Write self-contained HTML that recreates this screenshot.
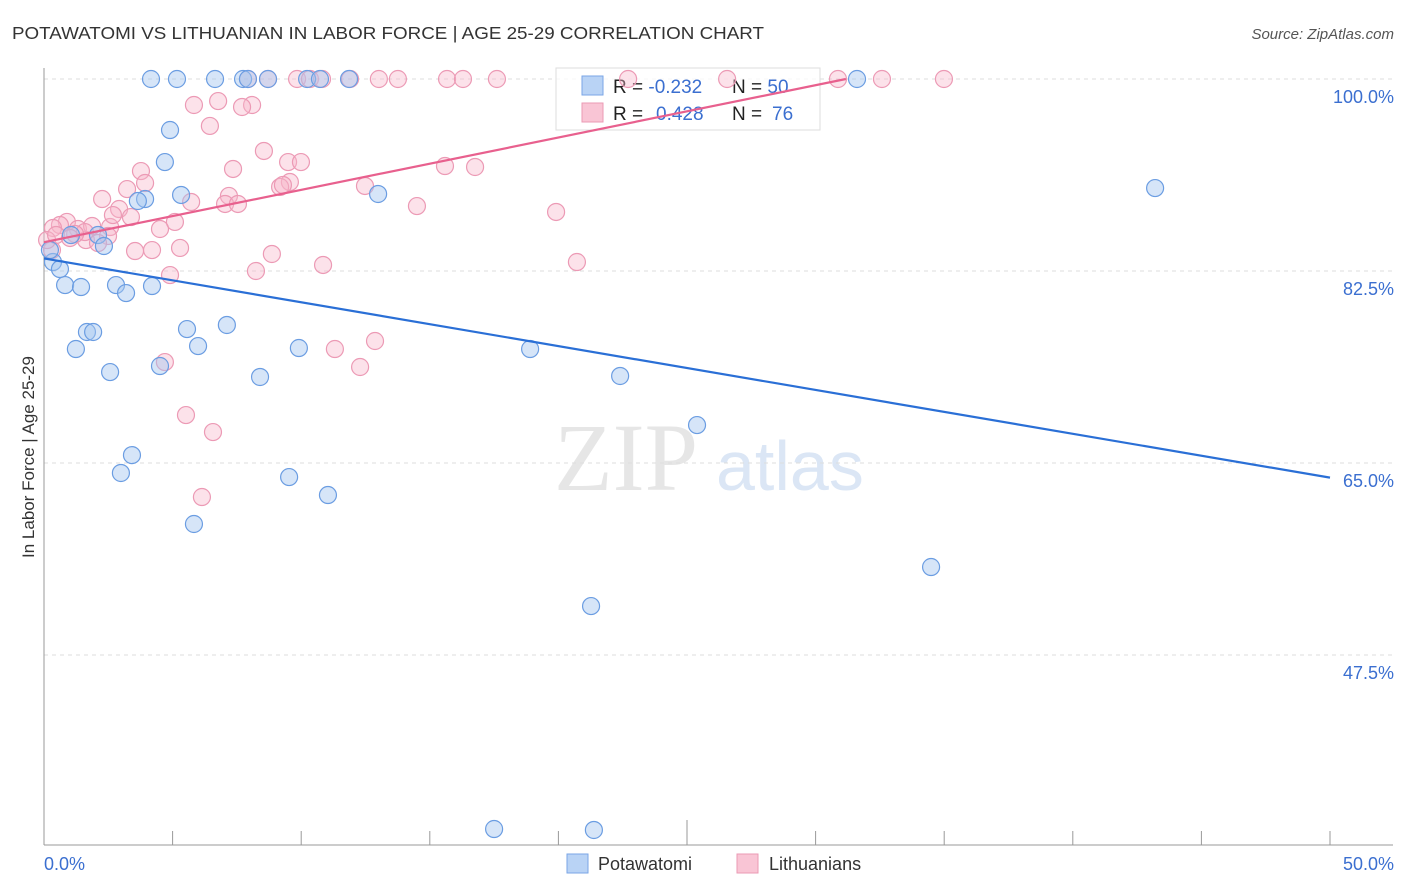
<!DOCTYPE html>
<html><head><meta charset="utf-8"><style>
body{margin:0;background:#fff;}
svg{display:block;font-family:"Liberation Sans",sans-serif;}
</style></head><body>
<svg id="chart" width="1406" height="892" viewBox="0 0 1406 892">
<text x="12" y="39" font-size="17.5" fill="#333" textLength="752" lengthAdjust="spacingAndGlyphs">POTAWATOMI VS LITHUANIAN IN LABOR FORCE | AGE 25-29 CORRELATION CHART</text>
<text x="1394" y="39" font-size="15" fill="#555" font-style="italic" text-anchor="end">Source: ZipAtlas.com</text>
<text x="554" y="490" font-size="96" fill="#e6e6e6" font-family="Liberation Serif, serif">ZIP</text>
<text x="716" y="490" font-size="70" fill="#dbe6f5">atlas</text>
<g id="grid"></g>
<g id="axes"></g>
<g>
<rect x="556" y="68" width="264" height="62" fill="rgba(255,255,255,0.75)" stroke="#ddd"/>
<rect x="582" y="76" width="21" height="19" fill="#b9d3f5" stroke="#7aa6e6"/>
<rect x="582" y="103" width="21" height="19" fill="#f9c5d5" stroke="#eb9ab4"/>
<text x="613" y="93" font-size="19" fill="#222">R = <tspan fill="#3b6fd0">-0.232</tspan><tspan x="732">N = </tspan><tspan fill="#3b6fd0">50</tspan></text>
<text x="613" y="120" font-size="19" fill="#222">R = <tspan fill="#3b6fd0" x="656">0.428</tspan><tspan x="732">N = </tspan><tspan fill="#3b6fd0" x="772">76</tspan></text>
</g>
<g id="pinkPts"></g>
<g id="bluePts"></g>
<g id="lines"></g>
<text transform="translate(34,457) rotate(-90)" font-size="17" fill="#333" text-anchor="middle">In Labor Force | Age 25-29</text>
<text x="44" y="870" font-size="18" fill="#3b6fd0">0.0%</text>
<text x="1394" y="870" font-size="18" fill="#3b6fd0" text-anchor="end">50.0%</text>
<g>
<rect x="567" y="854" width="21" height="19" fill="#b9d3f5" stroke="#7aa6e6"/>
<text x="598" y="870" font-size="18" fill="#333">Potawatomi</text>
<rect x="737" y="854" width="21" height="19" fill="#f9c5d5" stroke="#eb9ab4"/>
<text x="769" y="870" font-size="18" fill="#333">Lithuanians</text>
</g>
</svg>
<script>
const yTicks=[100,82.5,65,47.5];
const yTickLabels=["100.0%","82.5%","65.0%","47.5%"];
const xTicks=[0,5,10,15,20,25,30,35,40,45,50];
const blueX=[4.16,5.17,6.65,7.74,7.93,8.71,10.23,10.73,11.86,31.61,4.90,4.70,5.33,12.99,3.93,3.65,43.20,2.10,1.05,2.33,0.35,0.62,0.82,1.44,2.80,3.19,4.20,1.67,1.91,5.56,7.11,1.24,5.99,9.91,18.90,2.57,4.51,8.40,22.40,25.39,3.42,2.99,9.53,11.04,5.83,34.49,21.27,17.50,21.38,0.23];
const blueY=[100,100,100,100,100,100,100,100,100,100,95.35,92.43,89.43,89.52,89.06,88.88,90.06,85.78,85.78,84.78,83.32,82.68,81.22,81.04,81.22,80.49,81.13,76.94,76.94,77.21,77.58,75.39,75.66,75.48,75.39,73.29,73.84,72.84,72.93,68.46,65.72,64.09,63.72,62.08,59.44,55.52,51.96,31.64,31.55,84.41];
const pinkX=[7.93,8.71,9.84,10.34,10.81,11.90,13.02,13.76,15.67,16.29,17.61,22.71,26.56,30.87,32.58,34.99,5.83,6.77,8.09,7.70,6.45,8.55,9.49,9.99,7.35,3.77,15.59,16.76,9.56,9.18,12.48,3.93,3.23,7.19,2.26,7.04,7.54,5.72,14.50,19.91,2.92,3.38,5.09,4.51,0.89,0.62,0.35,1.32,1.87,2.57,2.49,1.63,2.10,3.54,4.20,5.29,8.86,0.31,10.85,8.24,20.72,4.90,12.87,11.31,4.70,12.29,5.52,6.57,6.14,1.59,1.21,0.12,0.47,1.01,2.68,9.29];
const pinkY=[100,100,100,100,100,100,100,100,100,100,100,100,100,100,100,100,97.63,97.99,97.63,97.45,95.72,93.44,92.43,92.43,91.80,91.61,92.07,91.98,90.61,90.16,90.25,90.52,89.97,89.34,89.06,88.61,88.61,88.79,88.42,87.88,88.15,87.42,86.97,86.33,86.97,86.69,86.42,86.33,86.60,86.51,85.69,85.32,85.05,84.32,84.41,84.60,84.05,84.41,83.05,82.50,83.32,82.13,76.12,75.39,74.20,73.75,69.37,67.82,61.90,86.05,85.87,85.32,85.78,85.51,87.60,90.34];
const NS="http://www.w3.org/2000/svg";
const X0=44,X1=1330,Y100=79,PX175=192;
function sx(v){return X0+(v/50)*(X1-X0);}
function sy(v){return Y100+(100-v)/17.5*PX175;}
function mk(tag,attrs,parent){const e=document.createElementNS(NS,tag);for(const k in attrs)e.setAttribute(k,attrs[k]);parent.appendChild(e);return e;}
const grid=document.getElementById('grid'),axes=document.getElementById('axes');
yTicks.forEach((t,i)=>{
 const l=mk('line',{x1:44,x2:1393,y1:sy(t),y2:sy(t),stroke:'#ddd','stroke-dasharray':'4,4'},grid);
 
 
 const tx=mk('text',{x:1394,y:sy(t)+24,'font-size':18,fill:'#3b6fd0','text-anchor':'end'},axes);
 tx.textContent=yTickLabels[i];
 
 
});
const xa=mk('line',{x1:44,x2:1393,y1:845,y2:845,stroke:'#999'},axes);


const ya=mk('line',{x1:44,x2:44,y1:68,y2:845,stroke:'#999'},axes);


xTicks.forEach(t=>{
 const tk=mk('line',{x1:sx(t),x2:sx(t),y1:845,y2:(t===25?820:831),stroke:'#999'},axes);
 
 
});
function pts(xs,ys,g,fill,stroke,name){
 xs.forEach((x,i)=>{
  const c=mk('circle',{cx:sx(x),cy:sy(ys[i]),r:8.5,fill:fill,stroke:stroke,'stroke-width':1.2},g);
  
  
 });
}
pts(pinkX,pinkY,document.getElementById('pinkPts'),'rgba(248,182,202,0.4)','#ec9ab5','lithuanian-point');
pts(blueX,blueY,document.getElementById('bluePts'),'rgba(165,198,240,0.45)','#6b9de2','potawatomi-point');
function reg(xs,ys){const n=xs.length;let mx=0,my=0;xs.forEach((x,i)=>{mx+=x;my+=ys[i];});mx/=n;my/=n;let a=0,b=0;xs.forEach((x,i)=>{a+=(x-mx)*(ys[i]-my);b+=(x-mx)*(x-mx);});const s=a/b;return [s,my-s*mx];}
const lines=document.getElementById('lines');
let [bs,bi]=reg(blueX,blueY);
const bl=mk('line',{x1:sx(0),y1:sy(bi),x2:sx(50),y2:sy(bi+bs*50),stroke:'#2a6fd6','stroke-width':2.2},lines);


let [ps,pi]=reg(pinkX,pinkY);
let xe=50; if(pi+ps*50>100&&ps>0) xe=(100-pi)/ps;
const pl=mk('line',{x1:sx(0),y1:sy(pi),x2:sx(xe),y2:sy(pi+ps*xe),stroke:'#e8608e','stroke-width':2.2},lines);


</script>
</body></html>
